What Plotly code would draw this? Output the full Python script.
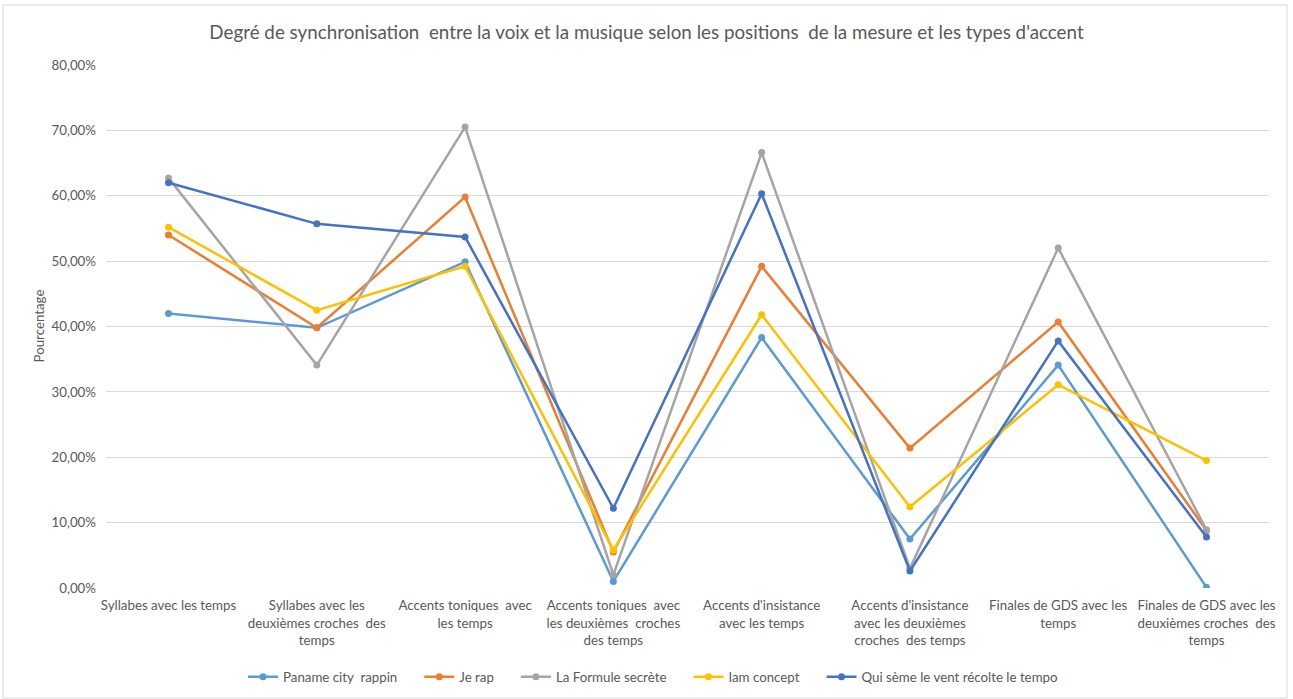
import plotly.graph_objects as go

categories = [
    "Syllabes avec les temps",
    "Syllabes avec les<br>deuxièmes croches  des<br>temps",
    "Accents toniques  avec<br>les temps",
    "Accents toniques  avec<br>les deuxièmes  croches<br>des temps",
    "Accents d'insistance<br>avec les temps",
    "Accents d'insistance<br>avec les deuxièmes<br>croches  des temps",
    "Finales de GDS avec les<br>temps",
    "Finales de GDS avec les<br>deuxièmes croches  des<br>temps",
]

paname_city_rappin = [0.420, 0.398, 0.499, 0.010, 0.383, 0.075, 0.341, 0.001]
je_rap = [0.540, 0.398, 0.598, 0.055, 0.492, 0.214, 0.407, 0.088]
la_formule_secrete = [0.627, 0.341, 0.705, 0.020, 0.666, 0.030, 0.520, 0.089]
iam_concept = [0.552, 0.425, 0.492, 0.058, 0.418, 0.124, 0.311, 0.195]
qui_seme_le_vent = [0.620, 0.557, 0.537, 0.122, 0.603, 0.026, 0.378, 0.078]

series_names = [
    "Paname city  rappin",
    "Je rap",
    "La Formule secrète",
    "Iam concept",
    "Qui sème le vent récolte le tempo",
]
series_values = [paname_city_rappin, je_rap, la_formule_secrete, iam_concept, qui_seme_le_vent]
series_colors = ["#5B9BD5", "#ED7D31", "#A5A5A5", "#FFC000", "#4472C4"]

FONT = "Lato, 'Open Sans', sans-serif"
TEXT = "#595959"
FS = 13.3

# plot area in pixels: x 106..1269, y 65..588
PL, PR, PT, PB = 106, 1269, 65, 588
PW, PH = PR - PL, PB - PT

# trailing no-break spaces widen the gap between legend entries
PAD = "\u00a0" * 5

fig = go.Figure()
for i, (name, values, color) in enumerate(zip(series_names, series_values, series_colors)):
    label = name if i == len(series_names) - 1 else name + PAD
    fig.add_trace(go.Scatter(
        x=categories, y=values, name=label, mode="lines+markers",
        line=dict(color=color, width=2.5),
        marker=dict(color=color, size=7),
    ))

fig.update_layout(
    width=1293, height=699,
    margin=dict(l=PL, r=1293 - PR, t=PT, b=699 - PB, autoexpand=False),
    paper_bgcolor="white", plot_bgcolor="white",
    separators=", ",
    font=dict(family=FONT, size=FS, color=TEXT),
    title=dict(
        text="Degré de synchronisation  entre la voix et la musique selon les positions  de la mesure et les types d'accent",
        x=0.5, xref="container", xanchor="center",
        y=1 - 32 / 699, yref="container", yanchor="middle",
        font=dict(family=FONT, size=18.8, color=TEXT),
    ),
    xaxis=dict(
        type="category", showgrid=False, showline=False, zeroline=False,
        ticks="", tickangle=0, ticklabelstandoff=8,
        tickfont=dict(size=FS, color=TEXT),
    ),
    yaxis=dict(
        range=[0, 0.8], dtick=0.1, tickformat=".2%",
        showgrid=True, gridcolor="#D9D9D9", gridwidth=1,
        zeroline=False, showline=False, ticks="",
        ticklabelstandoff=9,
        tickfont=dict(size=FS, color=TEXT),
    ),
    annotations=[dict(
        text="Pourcentage", textangle=-90, showarrow=False,
        xref="paper", yref="paper",
        x=(38 - PL) / PW, y=0.5, xanchor="center", yanchor="middle",
        font=dict(size=FS, color=TEXT),
    )],
    legend=dict(
        orientation="h", x=(243 - PL) / PW, xanchor="left", xref="paper",
        y=-(677 - PB) / PH, yanchor="middle",
        font=dict(size=FS, color=TEXT),
        itemwidth=30,
    ),
    shapes=[dict(
        type="rect", xref="paper", yref="paper",
        x0=(3 - PL) / PW, x1=(1287 - PL) / PW,
        y0=(PB - 698) / PH, y1=(PB - 5) / PH,
        line=dict(color="#D9D9D9", width=1), fillcolor="rgba(0,0,0,0)",
        layer="below",
    )],
    hovermode=False,
)

fig.write_html("out.html", config={"displayModeBar": False})
